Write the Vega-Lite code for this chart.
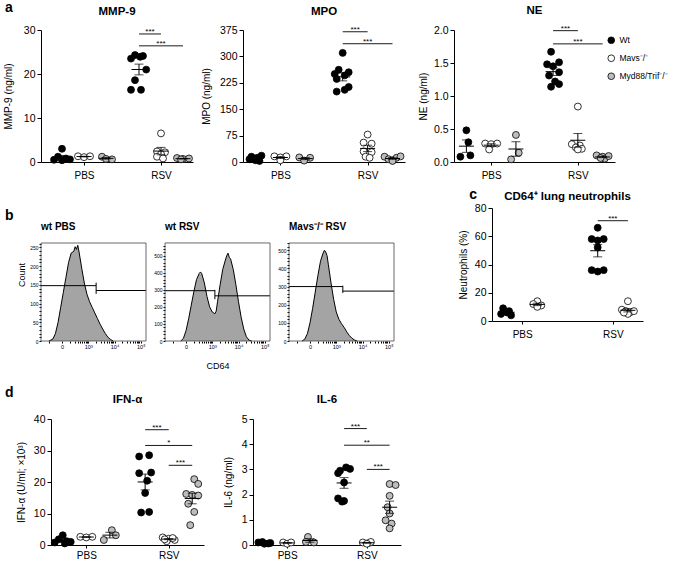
{
"$schema":"https://vega.github.io/schema/vega-lite/v6.json",
"background":"white",
"padding":{"left":3,"top":1,"right":0,"bottom":0},
"config":{
 "font":"Liberation Sans",
 "view":{"stroke":null},
 "axis":{"grid":false,"domainColor":"#000","tickColor":"#000","labelColor":"#000","titleColor":"#000","labelFontSize":10.5,"titleFontSize":10,"titleFontWeight":"normal","tickSize":4,"domainWidth":1,"tickWidth":1,"labelPadding":2,"labelOverlap":false},
 "title":{"fontSize":11.5,"fontWeight":"bold","color":"#000","baseline":"bottom"},
 "legend":{"labelColor":"#000"}
},
"datasets":{
"dots":[
{"p":"MMP-9","grp":"PBS|wt","g":"wt","v":3.0,"j":0},{"p":"MMP-9","grp":"PBS|wt","g":"wt","v":1.2,"j":-1},{"p":"MMP-9","grp":"PBS|wt","g":"wt","v":0.8,"j":1},{"p":"MMP-9","grp":"PBS|wt","g":"wt","v":0.5,"j":-2},{"p":"MMP-9","grp":"PBS|wt","g":"wt","v":0.4,"j":0},{"p":"MMP-9","grp":"PBS|wt","g":"wt","v":0.6,"j":2},
{"p":"MMP-9","grp":"PBS|Mavs","g":"Mavs","v":1.3,"j":-1.5},{"p":"MMP-9","grp":"PBS|Mavs","g":"Mavs","v":1.1,"j":0},{"p":"MMP-9","grp":"PBS|Mavs","g":"Mavs","v":1.3,"j":1.5},
{"p":"MMP-9","grp":"PBS|Myd","g":"Myd","v":1.2,"j":-1},{"p":"MMP-9","grp":"PBS|Myd","g":"Myd","v":0.7,"j":0},{"p":"MMP-9","grp":"PBS|Myd","g":"Myd","v":0.6,"j":1.5},
{"p":"MMP-9","grp":"RSV|wt","g":"wt","v":24.3,"j":-1},{"p":"MMP-9","grp":"RSV|wt","g":"wt","v":24.1,"j":1},{"p":"MMP-9","grp":"RSV|wt","g":"wt","v":23.9,"j":0.3},{"p":"MMP-9","grp":"RSV|wt","g":"wt","v":23.5,"j":-2},{"p":"MMP-9","grp":"RSV|wt","g":"wt","v":21.0,"j":1.8},{"p":"MMP-9","grp":"RSV|wt","g":"wt","v":18.6,"j":-1},{"p":"MMP-9","grp":"RSV|wt","g":"wt","v":16.4,"j":-2},{"p":"MMP-9","grp":"RSV|wt","g":"wt","v":16.4,"j":0.5},
{"p":"MMP-9","grp":"RSV|Mavs","g":"Mavs","v":6.5,"j":0},{"p":"MMP-9","grp":"RSV|Mavs","g":"Mavs","v":2.4,"j":-1},{"p":"MMP-9","grp":"RSV|Mavs","g":"Mavs","v":2.2,"j":1},{"p":"MMP-9","grp":"RSV|Mavs","g":"Mavs","v":1.8,"j":0},{"p":"MMP-9","grp":"RSV|Mavs","g":"Mavs","v":1.2,"j":-1},{"p":"MMP-9","grp":"RSV|Mavs","g":"Mavs","v":0.8,"j":0.5},
{"p":"MMP-9","grp":"RSV|Myd","g":"Myd","v":0.9,"j":-1.5},{"p":"MMP-9","grp":"RSV|Myd","g":"Myd","v":0.7,"j":0},{"p":"MMP-9","grp":"RSV|Myd","g":"Myd","v":0.8,"j":1.5},{"p":"MMP-9","grp":"RSV|Myd","g":"Myd","v":0.6,"j":-0.5},
{"p":"MPO","grp":"PBS|wt","g":"wt","v":18,"j":1.5},{"p":"MPO","grp":"PBS|wt","g":"wt","v":15,"j":-1},{"p":"MPO","grp":"PBS|wt","g":"wt","v":12,"j":0.5},{"p":"MPO","grp":"PBS|wt","g":"wt","v":8,"j":-1.5},{"p":"MPO","grp":"PBS|wt","g":"wt","v":5,"j":0},{"p":"MPO","grp":"PBS|wt","g":"wt","v":3,"j":1},{"p":"MPO","grp":"PBS|wt","g":"wt","v":10,"j":-0.5},
{"p":"MPO","grp":"PBS|Mavs","g":"Mavs","v":16,"j":-1.5},{"p":"MPO","grp":"PBS|Mavs","g":"Mavs","v":13,"j":0},{"p":"MPO","grp":"PBS|Mavs","g":"Mavs","v":16,"j":1.5},{"p":"MPO","grp":"PBS|Mavs","g":"Mavs","v":5,"j":0},
{"p":"MPO","grp":"PBS|Myd","g":"Myd","v":13,"j":-1.5},{"p":"MPO","grp":"PBS|Myd","g":"Myd","v":4,"j":-0.3},{"p":"MPO","grp":"PBS|Myd","g":"Myd","v":12,"j":1.2},
{"p":"MPO","grp":"RSV|wt","g":"wt","v":310,"j":0},{"p":"MPO","grp":"RSV|wt","g":"wt","v":262,"j":-1},{"p":"MPO","grp":"RSV|wt","g":"wt","v":255,"j":1.5},{"p":"MPO","grp":"RSV|wt","g":"wt","v":250,"j":-2},{"p":"MPO","grp":"RSV|wt","g":"wt","v":246,"j":0.5},{"p":"MPO","grp":"RSV|wt","g":"wt","v":236,"j":-1.5},{"p":"MPO","grp":"RSV|wt","g":"wt","v":205,"j":0.5},{"p":"MPO","grp":"RSV|wt","g":"wt","v":200,"j":-1.5},{"p":"MPO","grp":"RSV|wt","g":"wt","v":213,"j":1.5},
{"p":"MPO","grp":"RSV|Mavs","g":"Mavs","v":78,"j":0},{"p":"MPO","grp":"RSV|Mavs","g":"Mavs","v":55,"j":-1},{"p":"MPO","grp":"RSV|Mavs","g":"Mavs","v":52,"j":1},{"p":"MPO","grp":"RSV|Mavs","g":"Mavs","v":30,"j":-1},{"p":"MPO","grp":"RSV|Mavs","g":"Mavs","v":28,"j":1},{"p":"MPO","grp":"RSV|Mavs","g":"Mavs","v":15,"j":-0.5},{"p":"MPO","grp":"RSV|Mavs","g":"Mavs","v":12,"j":0.5},
{"p":"MPO","grp":"RSV|Myd","g":"Myd","v":15,"j":-2},{"p":"MPO","grp":"RSV|Myd","g":"Myd","v":8,"j":-1},{"p":"MPO","grp":"RSV|Myd","g":"Myd","v":5,"j":0},{"p":"MPO","grp":"RSV|Myd","g":"Myd","v":12,"j":1},{"p":"MPO","grp":"RSV|Myd","g":"Myd","v":16,"j":2},{"p":"MPO","grp":"RSV|Myd","g":"Myd","v":3,"j":0},
{"p":"NE","grp":"PBS|wt","g":"wt","v":0.48,"j":0},{"p":"NE","grp":"PBS|wt","g":"wt","v":0.30,"j":0.5},{"p":"NE","grp":"PBS|wt","g":"wt","v":0.08,"j":-1.5},{"p":"NE","grp":"PBS|wt","g":"wt","v":0.10,"j":1},
{"p":"NE","grp":"PBS|Mavs","g":"Mavs","v":0.28,"j":-1.5},{"p":"NE","grp":"PBS|Mavs","g":"Mavs","v":0.27,"j":0},{"p":"NE","grp":"PBS|Mavs","g":"Mavs","v":0.28,"j":1.5},{"p":"NE","grp":"PBS|Mavs","g":"Mavs","v":0.19,"j":-0.5},
{"p":"NE","grp":"PBS|Myd","g":"Myd","v":0.41,"j":0},{"p":"NE","grp":"PBS|Myd","g":"Myd","v":0.14,"j":0.7},{"p":"NE","grp":"PBS|Myd","g":"Myd","v":0.04,"j":-1.2},
{"p":"NE","grp":"RSV|wt","g":"wt","v":1.67,"j":-0.5},{"p":"NE","grp":"RSV|wt","g":"wt","v":1.51,"j":1.5},{"p":"NE","grp":"RSV|wt","g":"wt","v":1.48,"j":-1.5},{"p":"NE","grp":"RSV|wt","g":"wt","v":1.45,"j":0},{"p":"NE","grp":"RSV|wt","g":"wt","v":1.36,"j":1.5},{"p":"NE","grp":"RSV|wt","g":"wt","v":1.31,"j":-1},{"p":"NE","grp":"RSV|wt","g":"wt","v":1.22,"j":0.5},{"p":"NE","grp":"RSV|wt","g":"wt","v":1.18,"j":1.5},{"p":"NE","grp":"RSV|wt","g":"wt","v":1.14,"j":-0.5},
{"p":"NE","grp":"RSV|Mavs","g":"Mavs","v":0.84,"j":0},{"p":"NE","grp":"RSV|Mavs","g":"Mavs","v":0.27,"j":-1.5},{"p":"NE","grp":"RSV|Mavs","g":"Mavs","v":0.25,"j":0.5},{"p":"NE","grp":"RSV|Mavs","g":"Mavs","v":0.22,"j":-0.5},{"p":"NE","grp":"RSV|Mavs","g":"Mavs","v":0.20,"j":1},{"p":"NE","grp":"RSV|Mavs","g":"Mavs","v":0.19,"j":0},
{"p":"NE","grp":"RSV|Myd","g":"Myd","v":0.10,"j":-1.5},{"p":"NE","grp":"RSV|Myd","g":"Myd","v":0.08,"j":0},{"p":"NE","grp":"RSV|Myd","g":"Myd","v":0.05,"j":0.5},{"p":"NE","grp":"RSV|Myd","g":"Myd","v":0.09,"j":1.5},{"p":"NE","grp":"RSV|Myd","g":"Myd","v":0.06,"j":-0.5},
{"p":"CD64","grp":"PBS|wt","g":"wt","v":9,"j":-1},{"p":"CD64","grp":"PBS|wt","g":"wt","v":7,"j":0.5},{"p":"CD64","grp":"PBS|wt","g":"wt","v":5,"j":-1.5},{"p":"CD64","grp":"PBS|wt","g":"wt","v":4,"j":1},{"p":"CD64","grp":"PBS|wt","g":"wt","v":6,"j":0},
{"p":"CD64","grp":"PBS|Mavs","g":"Mavs","v":14,"j":0},{"p":"CD64","grp":"PBS|Mavs","g":"Mavs","v":12,"j":-1},{"p":"CD64","grp":"PBS|Mavs","g":"Mavs","v":11,"j":1},{"p":"CD64","grp":"PBS|Mavs","g":"Mavs","v":10,"j":0},
{"p":"CD64","grp":"RSV|wt","g":"wt","v":66,"j":0},{"p":"CD64","grp":"RSV|wt","g":"wt","v":58,"j":-1.5},{"p":"CD64","grp":"RSV|wt","g":"wt","v":57,"j":0},{"p":"CD64","grp":"RSV|wt","g":"wt","v":58,"j":1.5},{"p":"CD64","grp":"RSV|wt","g":"wt","v":52,"j":0},{"p":"CD64","grp":"RSV|wt","g":"wt","v":36,"j":-1.5},{"p":"CD64","grp":"RSV|wt","g":"wt","v":35,"j":0},{"p":"CD64","grp":"RSV|wt","g":"wt","v":36,"j":1.5},
{"p":"CD64","grp":"RSV|Mavs","g":"Mavs","v":14,"j":0},{"p":"CD64","grp":"RSV|Mavs","g":"Mavs","v":8,"j":-1.5},{"p":"CD64","grp":"RSV|Mavs","g":"Mavs","v":7,"j":-0.5},{"p":"CD64","grp":"RSV|Mavs","g":"Mavs","v":6,"j":0.5},{"p":"CD64","grp":"RSV|Mavs","g":"Mavs","v":7,"j":1.5},{"p":"CD64","grp":"RSV|Mavs","g":"Mavs","v":5,"j":0},{"p":"CD64","grp":"RSV|Mavs","g":"Mavs","v":6,"j":-1},
{"p":"IFN","grp":"PBS|wt","g":"wt","v":3.1,"j":0},{"p":"IFN","grp":"PBS|wt","g":"wt","v":1.8,"j":-1},{"p":"IFN","grp":"PBS|wt","g":"wt","v":1.2,"j":1},{"p":"IFN","grp":"PBS|wt","g":"wt","v":0.8,"j":-2},{"p":"IFN","grp":"PBS|wt","g":"wt","v":0.5,"j":0.5},{"p":"IFN","grp":"PBS|wt","g":"wt","v":1.0,"j":2},
{"p":"IFN","grp":"PBS|Mavs","g":"Mavs","v":2.6,"j":-1.5},{"p":"IFN","grp":"PBS|Mavs","g":"Mavs","v":2.4,"j":0},{"p":"IFN","grp":"PBS|Mavs","g":"Mavs","v":2.6,"j":1.5},
{"p":"IFN","grp":"PBS|Myd","g":"Myd","v":4.7,"j":0.5},{"p":"IFN","grp":"PBS|Myd","g":"Myd","v":3.1,"j":1.5},{"p":"IFN","grp":"PBS|Myd","g":"Myd","v":1.6,"j":-1.5},
{"p":"IFN","grp":"RSV|wt","g":"wt","v":28.5,"j":1},{"p":"IFN","grp":"RSV|wt","g":"wt","v":28.1,"j":-1.5},{"p":"IFN","grp":"RSV|wt","g":"wt","v":23.0,"j":1.5},{"p":"IFN","grp":"RSV|wt","g":"wt","v":22.8,"j":-1.5},{"p":"IFN","grp":"RSV|wt","g":"wt","v":20.4,"j":0.5},{"p":"IFN","grp":"RSV|wt","g":"wt","v":16.5,"j":0},{"p":"IFN","grp":"RSV|wt","g":"wt","v":10.3,"j":-1},{"p":"IFN","grp":"RSV|wt","g":"wt","v":10.5,"j":1},
{"p":"IFN","grp":"RSV|Mavs","g":"Mavs","v":2.4,"j":-1.5},{"p":"IFN","grp":"RSV|Mavs","g":"Mavs","v":2.0,"j":0},{"p":"IFN","grp":"RSV|Mavs","g":"Mavs","v":1.6,"j":1.5},{"p":"IFN","grp":"RSV|Mavs","g":"Mavs","v":1.2,"j":-0.5},{"p":"IFN","grp":"RSV|Mavs","g":"Mavs","v":2.2,"j":1},{"p":"IFN","grp":"RSV|Mavs","g":"Mavs","v":1.8,"j":-1},
{"p":"IFN","grp":"RSV|Myd","g":"Myd","v":20.9,"j":0.5},{"p":"IFN","grp":"RSV|Myd","g":"Myd","v":19.4,"j":1.5},{"p":"IFN","grp":"RSV|Myd","g":"Myd","v":16.2,"j":-1.5},{"p":"IFN","grp":"RSV|Myd","g":"Myd","v":15.9,"j":0},{"p":"IFN","grp":"RSV|Myd","g":"Myd","v":15.7,"j":1.5},{"p":"IFN","grp":"RSV|Myd","g":"Myd","v":13.1,"j":-1},{"p":"IFN","grp":"RSV|Myd","g":"Myd","v":10.5,"j":0.5},{"p":"IFN","grp":"RSV|Myd","g":"Myd","v":6.3,"j":-0.5},
{"p":"IL6","grp":"PBS|wt","g":"wt","v":0.10,"j":-1.5},{"p":"IL6","grp":"PBS|wt","g":"wt","v":0.05,"j":0},{"p":"IL6","grp":"PBS|wt","g":"wt","v":0.08,"j":1.5},{"p":"IL6","grp":"PBS|wt","g":"wt","v":0.12,"j":-0.5},{"p":"IL6","grp":"PBS|wt","g":"wt","v":0.06,"j":1},
{"p":"IL6","grp":"PBS|Mavs","g":"Mavs","v":0.10,"j":-1},{"p":"IL6","grp":"PBS|Mavs","g":"Mavs","v":0.05,"j":0},{"p":"IL6","grp":"PBS|Mavs","g":"Mavs","v":0.10,"j":1},
{"p":"IL6","grp":"PBS|Myd","g":"Myd","v":0.32,"j":-0.5},{"p":"IL6","grp":"PBS|Myd","g":"Myd","v":0.12,"j":-1},{"p":"IL6","grp":"PBS|Myd","g":"Myd","v":0.10,"j":1},
{"p":"IL6","grp":"RSV|wt","g":"wt","v":3.08,"j":0.5},{"p":"IL6","grp":"RSV|wt","g":"wt","v":3.02,"j":1.5},{"p":"IL6","grp":"RSV|wt","g":"wt","v":2.95,"j":-1},{"p":"IL6","grp":"RSV|wt","g":"wt","v":2.85,"j":-1.5},{"p":"IL6","grp":"RSV|wt","g":"wt","v":2.48,"j":0},{"p":"IL6","grp":"RSV|wt","g":"wt","v":1.85,"j":-1.5},{"p":"IL6","grp":"RSV|wt","g":"wt","v":1.75,"j":0},{"p":"IL6","grp":"RSV|wt","g":"wt","v":1.72,"j":-0.5},
{"p":"IL6","grp":"RSV|Mavs","g":"Mavs","v":0.10,"j":-1},{"p":"IL6","grp":"RSV|Mavs","g":"Mavs","v":0.08,"j":0.5},{"p":"IL6","grp":"RSV|Mavs","g":"Mavs","v":0.12,"j":1},{"p":"IL6","grp":"RSV|Mavs","g":"Mavs","v":0.05,"j":0},
{"p":"IL6","grp":"RSV|Myd","g":"Myd","v":2.42,"j":0},{"p":"IL6","grp":"RSV|Myd","g":"Myd","v":2.38,"j":1.5},{"p":"IL6","grp":"RSV|Myd","g":"Myd","v":1.95,"j":0},{"p":"IL6","grp":"RSV|Myd","g":"Myd","v":1.5,"j":-0.5},{"p":"IL6","grp":"RSV|Myd","g":"Myd","v":1.25,"j":0},{"p":"IL6","grp":"RSV|Myd","g":"Myd","v":0.98,"j":-1},{"p":"IL6","grp":"RSV|Myd","g":"Myd","v":0.85,"j":0.5},{"p":"IL6","grp":"RSV|Myd","g":"Myd","v":0.66,"j":0}
],
"sig":[
{"p":"MMP-9","a":"RSV|wt","b":"RSV|Mavs","m":"RSV|wm","y":29.1,"s":"***"},{"p":"MMP-9","a":"RSV|wt","b":"RSV|Myd","m":"RSV|Mavs","y":26.4,"s":"***"},
{"p":"MPO","a":"RSV|wt","b":"RSV|Mavs","m":"RSV|wm","y":370,"s":"***"},{"p":"MPO","a":"RSV|wt","b":"RSV|Myd","m":"RSV|Mavs","y":336,"s":"***"},
{"p":"NE","a":"RSV|wt","b":"RSV|Mavs","m":"RSV|wm","y":1.99,"s":"***"},{"p":"NE","a":"RSV|wt","b":"RSV|Myd","m":"RSV|Mavs","y":1.79,"s":"***"},
{"p":"CD64","a":"RSV|wt","b":"RSV|Mavs","m":"RSV|wm","y":71,"s":"***"},
{"p":"IFN","a":"RSV|wt","b":"RSV|Mavs","m":"RSV|wm","y":36.6,"s":"***"},{"p":"IFN","a":"RSV|wt","b":"RSV|Myd","m":"RSV|Mavs","y":31.6,"s":"*"},{"p":"IFN","a":"RSV|Mavs","b":"RSV|Myd","m":"RSV|my","y":25.3,"s":"***"},
{"p":"IL6","a":"RSV|wt","b":"RSV|Mavs","m":"RSV|wm","y":4.62,"s":"***"},{"p":"IL6","a":"RSV|wt","b":"RSV|Myd","m":"RSV|Mavs","y":3.96,"s":"**"},{"p":"IL6","a":"RSV|Mavs","b":"RSV|Myd","m":"RSV|my","y":3.0,"s":"***"}
],
"hist":[
{"h":"wtPBS","x":-0.5,"n":0},{"h":"wtPBS","x":-0.35,"n":5},{"h":"wtPBS","x":-0.25,"n":20},{"h":"wtPBS","x":-0.15,"n":50},{"h":"wtPBS","x":-0.05,"n":90},{"h":"wtPBS","x":0.05,"n":130},{"h":"wtPBS","x":0.15,"n":170},{"h":"wtPBS","x":0.25,"n":210},{"h":"wtPBS","x":0.35,"n":235},{"h":"wtPBS","x":0.45,"n":240},{"h":"wtPBS","x":0.5,"n":252},{"h":"wtPBS","x":0.55,"n":245},{"h":"wtPBS","x":0.6,"n":256},{"h":"wtPBS","x":0.65,"n":238},{"h":"wtPBS","x":0.75,"n":195},{"h":"wtPBS","x":0.85,"n":155},{"h":"wtPBS","x":0.95,"n":125},{"h":"wtPBS","x":1.05,"n":105},{"h":"wtPBS","x":1.15,"n":90},{"h":"wtPBS","x":1.25,"n":75},{"h":"wtPBS","x":1.35,"n":60},{"h":"wtPBS","x":1.45,"n":45},{"h":"wtPBS","x":1.55,"n":32},{"h":"wtPBS","x":1.65,"n":20},{"h":"wtPBS","x":1.75,"n":10},{"h":"wtPBS","x":1.85,"n":4},{"h":"wtPBS","x":1.95,"n":0},
{"h":"wtRSV","x":-0.2,"n":0},{"h":"wtRSV","x":-0.1,"n":15},{"h":"wtRSV","x":0,"n":60},{"h":"wtRSV","x":0.1,"n":130},{"h":"wtRSV","x":0.2,"n":210},{"h":"wtRSV","x":0.3,"n":290},{"h":"wtRSV","x":0.4,"n":360},{"h":"wtRSV","x":0.5,"n":395},{"h":"wtRSV","x":0.55,"n":405},{"h":"wtRSV","x":0.6,"n":395},{"h":"wtRSV","x":0.7,"n":340},{"h":"wtRSV","x":0.8,"n":260},{"h":"wtRSV","x":0.9,"n":200},{"h":"wtRSV","x":1.0,"n":170},{"h":"wtRSV","x":1.1,"n":160},{"h":"wtRSV","x":1.15,"n":175},{"h":"wtRSV","x":1.2,"n":230},{"h":"wtRSV","x":1.3,"n":330},{"h":"wtRSV","x":1.4,"n":420},{"h":"wtRSV","x":1.5,"n":475},{"h":"wtRSV","x":1.55,"n":500},{"h":"wtRSV","x":1.6,"n":515},{"h":"wtRSV","x":1.65,"n":490},{"h":"wtRSV","x":1.7,"n":480},{"h":"wtRSV","x":1.8,"n":420},{"h":"wtRSV","x":1.9,"n":330},{"h":"wtRSV","x":2.0,"n":230},{"h":"wtRSV","x":2.1,"n":140},{"h":"wtRSV","x":2.2,"n":70},{"h":"wtRSV","x":2.3,"n":25},{"h":"wtRSV","x":2.4,"n":5},{"h":"wtRSV","x":2.5,"n":0},
{"h":"MavsRSV","x":-0.3,"n":0},{"h":"MavsRSV","x":-0.2,"n":10},{"h":"MavsRSV","x":-0.1,"n":40},{"h":"MavsRSV","x":0,"n":100},{"h":"MavsRSV","x":0.1,"n":180},{"h":"MavsRSV","x":0.2,"n":270},{"h":"MavsRSV","x":0.3,"n":360},{"h":"MavsRSV","x":0.4,"n":440},{"h":"MavsRSV","x":0.5,"n":485},{"h":"MavsRSV","x":0.55,"n":500},{"h":"MavsRSV","x":0.6,"n":490},{"h":"MavsRSV","x":0.65,"n":470},{"h":"MavsRSV","x":0.7,"n":420},{"h":"MavsRSV","x":0.8,"n":320},{"h":"MavsRSV","x":0.9,"n":230},{"h":"MavsRSV","x":1.0,"n":160},{"h":"MavsRSV","x":1.1,"n":120},{"h":"MavsRSV","x":1.2,"n":95},{"h":"MavsRSV","x":1.3,"n":75},{"h":"MavsRSV","x":1.4,"n":50},{"h":"MavsRSV","x":1.5,"n":30},{"h":"MavsRSV","x":1.6,"n":15},{"h":"MavsRSV","x":1.7,"n":5},{"h":"MavsRSV","x":1.8,"n":0}
],
"gates":[
{"h":"wtPBS","x":-0.8,"x2":1.3,"y":148,"y2":148},{"h":"wtPBS","x":1.3,"x2":1.3,"y":126,"y2":156},{"h":"wtPBS","x":1.3,"x2":3.2,"y":135,"y2":135},
{"h":"wtRSV","x":-0.8,"x2":1.1,"y":295,"y2":295},{"h":"wtRSV","x":1.1,"x2":1.1,"y":245,"y2":300},{"h":"wtRSV","x":1.1,"x2":3.2,"y":265,"y2":265},
{"h":"MavsRSV","x":-0.8,"x2":1.25,"y":300,"y2":300},{"h":"MavsRSV","x":1.25,"x2":1.25,"y":265,"y2":305},{"h":"MavsRSV","x":1.25,"x2":3.2,"y":275,"y2":275}
],
"frames":[
{"h":"wtPBS","x":-0.8,"x2":3.2,"y":0,"y2":262},{"h":"wtRSV","x":-0.8,"x2":3.2,"y":0,"y2":575},{"h":"MavsRSV","x":-0.8,"x2":3.2,"y":0,"y2":540}
]
},
"spacing":15,
"resolve":{"scale":{"color":"independent"},"legend":{"color":"independent"}},
"vconcat":[
{"spacing":8,"resolve":{"scale":{"color":"independent"},"legend":{"color":"independent"}},
 "vconcat":[
 {"hconcat":[
  {"width":36,"height":132,"title":{"text":"a","anchor":"start","frame":"group","offset":15,"fontSize":14},"data":{"values":[{}]},"mark":{"type":"point","opacity":0,"size":0},"encoding":{}},
  {"width":152,"height":132,"title":{"text":"MMP-9","offset":8},
   "layer":[
   {"data":{"name":"dots"},"transform":[{"filter":"datum.p=='MMP-9'"}],"mark":{"type":"point","filled":true,"stroke":"#000","strokeWidth":0.8,"size":48,"opacity":1},
    "encoding":{"x":{"field":"grp","type":"nominal","title":null,"scale":{"type":"point","domain":["_l","PBS|wt","PBS|wm","PBS|Mavs","PBS|my","PBS|Myd","_g1","_g2","RSV|wt","RSV|wm","RSV|Mavs","RSV|my","RSV|Myd"],"padding":0.909},"axis":{"values":["PBS|Mavs","RSV|Mavs"],"labelExpr":"split(datum.value,'|')[0]","labelAngle":0,"labelFontSize":10,"labelPadding":5,"tickSize":3}},
     "xOffset":{"field":"j","type":"quantitative","scale":{"domain":[-2,2],"range":[-8,8]}},
     "y":{"field":"v","type":"quantitative","title":"MMP-9 (ng/ml)","scale":{"domain":[0,30],"nice":false},"axis":{"values":[0,10,20,30],"titlePadding":10}},
     "color":{"field":"g","type":"nominal","scale":{"domain":["wt","Mavs","Myd"],"range":["#000000","#ffffff","#bdbdbd"]},"legend":null}}},
   {"data":{"name":"dots"},"transform":[{"filter":"datum.p=='MMP-9'"}],"mark":{"type":"errorbar","extent":"stderr","color":"#000","thickness":1,"ticks":{"size":9,"thickness":1,"color":"#000"}},
    "encoding":{"x":{"field":"grp","type":"nominal","title":null},"y":{"field":"v","type":"quantitative","title":"MMP-9 (ng/ml)","axis":{"values":[0,10,20,30],"titlePadding":10}}}},
   {"data":{"name":"dots"},"transform":[{"filter":"datum.p=='MMP-9'"}],"mark":{"type":"tick","size":15,"thickness":1,"color":"#000","orient":"horizontal"},
    "encoding":{"x":{"field":"grp","type":"nominal","title":null},"y":{"field":"v","aggregate":"mean","type":"quantitative","title":"MMP-9 (ng/ml)","axis":{"values":[0,10,20,30],"titlePadding":10}}}},
   {"data":{"name":"sig"},"transform":[{"filter":"datum.p=='MMP-9'"}],"mark":{"type":"rule","color":"#000","strokeWidth":0.9},
    "encoding":{"x":{"field":"a","type":"nominal","title":null},"x2":{"field":"b"},"y":{"field":"y","type":"quantitative","title":"MMP-9 (ng/ml)","axis":{"values":[0,10,20,30],"titlePadding":10}}}},
   {"data":{"name":"sig"},"transform":[{"filter":"datum.p=='MMP-9'"}],"mark":{"type":"text","fontSize":8,"baseline":"alphabetic","color":"#000"},
    "encoding":{"x":{"field":"m","type":"nominal","title":null},"y":{"field":"y","type":"quantitative","title":"MMP-9 (ng/ml)","axis":{"values":[0,10,20,30],"titlePadding":10}},"text":{"field":"s"}}}
   ]},
  {"width":50,"height":132,"data":{"values":[{}]},"mark":{"type":"point","opacity":0,"size":0},"encoding":{}},
  {"width":162,"height":132,"title":{"text":"MPO","offset":8},
   "layer":[
   {"data":{"name":"dots"},"transform":[{"filter":"datum.p=='MPO'"}],"mark":{"type":"point","filled":true,"stroke":"#000","strokeWidth":0.8,"size":48,"opacity":1},
    "encoding":{"x":{"field":"grp","type":"nominal","title":null,"scale":{"type":"point","domain":["PBS|wt","PBS|wm","PBS|Mavs","PBS|my","PBS|Myd","_g1","_g2","RSV|wt","RSV|wm","RSV|Mavs","RSV|my","RSV|Myd"],"padding":1.864},"axis":{"values":["PBS|Mavs","RSV|Mavs"],"labelExpr":"split(datum.value,'|')[0]","labelAngle":0,"labelFontSize":10,"labelPadding":5,"tickSize":3}},
     "xOffset":{"field":"j","type":"quantitative","scale":{"domain":[-2,2],"range":[-8,8]}},
     "y":{"field":"v","type":"quantitative","title":"MPO (ng/ml)","scale":{"domain":[0,375],"nice":false},"axis":{"values":[0,75,150,225,300,375],"titlePadding":8}},
     "color":{"field":"g","type":"nominal","scale":{"domain":["wt","Mavs","Myd"],"range":["#000000","#ffffff","#bdbdbd"]},"legend":null}}},
   {"data":{"name":"dots"},"transform":[{"filter":"datum.p=='MPO'"}],"mark":{"type":"errorbar","extent":"stderr","color":"#000","thickness":1,"ticks":{"size":9,"thickness":1,"color":"#000"}},
    "encoding":{"x":{"field":"grp","type":"nominal","title":null},"y":{"field":"v","type":"quantitative","title":"MPO (ng/ml)","axis":{"values":[0,75,150,225,300,375],"titlePadding":8}}}},
   {"data":{"name":"dots"},"transform":[{"filter":"datum.p=='MPO'"}],"mark":{"type":"tick","size":15,"thickness":1,"color":"#000","orient":"horizontal"},
    "encoding":{"x":{"field":"grp","type":"nominal","title":null},"y":{"field":"v","aggregate":"mean","type":"quantitative","title":"MPO (ng/ml)","axis":{"values":[0,75,150,225,300,375],"titlePadding":8}}}},
   {"data":{"name":"sig"},"transform":[{"filter":"datum.p=='MPO'"}],"mark":{"type":"rule","color":"#000","strokeWidth":0.9},
    "encoding":{"x":{"field":"a","type":"nominal","title":null},"x2":{"field":"b"},"y":{"field":"y","type":"quantitative","title":"MPO (ng/ml)","axis":{"values":[0,75,150,225,300,375],"titlePadding":8}}}},
   {"data":{"name":"sig"},"transform":[{"filter":"datum.p=='MPO'"}],"mark":{"type":"text","fontSize":8,"baseline":"alphabetic","color":"#000"},
    "encoding":{"x":{"field":"m","type":"nominal","title":null},"y":{"field":"y","type":"quantitative","title":"MPO (ng/ml)","axis":{"values":[0,75,150,225,300,375],"titlePadding":8}},"text":{"field":"s"}}}
   ]},
  {"width":49,"height":132,"data":{"values":[{}]},"mark":{"type":"point","opacity":0,"size":0},"encoding":{}},
  {"width":161,"height":132,"title":{"text":"NE","offset":8},
   "layer":[
   {"data":{"name":"dots"},"transform":[{"filter":"datum.p=='NE'"}],"mark":{"type":"point","filled":true,"stroke":"#000","strokeWidth":0.8,"size":48,"opacity":1},
    "encoding":{"x":{"field":"grp","type":"nominal","title":null,"scale":{"type":"point","domain":["PBS|wt","PBS|wm","PBS|Mavs","PBS|my","PBS|Myd","_g1","_g2","RSV|wt","RSV|wm","RSV|Mavs","RSV|my","RSV|Myd"],"padding":1.818},"axis":{"values":["PBS|Mavs","RSV|Mavs"],"labelExpr":"split(datum.value,'|')[0]","labelAngle":0,"labelFontSize":10,"labelPadding":5,"tickSize":3}},
     "xOffset":{"field":"j","type":"quantitative","scale":{"domain":[-2,2],"range":[-8,8]}},
     "y":{"field":"v","type":"quantitative","title":"NE (ng/ml)","scale":{"domain":[0,2],"nice":false},"axis":{"values":[0,0.5,1,1.5,2],"format":".1f","titlePadding":5}},
     "color":{"field":"g","type":"nominal","scale":{"domain":["wt","Mavs","Myd"],"range":["#000000","#ffffff","#bdbdbd"]},
       "legend":{"orient":"none","legendX":153,"legendY":6,"title":null,"padding":0,"labelFontSize":8.5,"symbolSize":45,"symbolType":"circle","symbolStrokeColor":"#000","symbolStrokeWidth":0.8,"rowPadding":7,"labelOffset":4,
         "labelExpr":"datum.value == 'wt' ? 'Wt' : datum.value == 'Mavs' ? 'Mavs⁻/⁻' : 'Myd88/Trif⁻/⁻'",
         "encode":{"labels":{"update":{"fontStyle":{"signal":"datum.value == 'wt' ? 'normal' : 'italic'"}}}}}}}},
   {"data":{"name":"dots"},"transform":[{"filter":"datum.p=='NE'"}],"mark":{"type":"errorbar","extent":"stderr","color":"#000","thickness":1,"ticks":{"size":9,"thickness":1,"color":"#000"}},
    "encoding":{"x":{"field":"grp","type":"nominal","title":null},"y":{"field":"v","type":"quantitative","title":"NE (ng/ml)","axis":{"values":[0,0.5,1,1.5,2],"format":".1f","titlePadding":5}}}},
   {"data":{"name":"dots"},"transform":[{"filter":"datum.p=='NE'"}],"mark":{"type":"tick","size":15,"thickness":1,"color":"#000","orient":"horizontal"},
    "encoding":{"x":{"field":"grp","type":"nominal","title":null},"y":{"field":"v","aggregate":"mean","type":"quantitative","title":"NE (ng/ml)","axis":{"values":[0,0.5,1,1.5,2],"format":".1f","titlePadding":5}}}},
   {"data":{"name":"sig"},"transform":[{"filter":"datum.p=='NE'"}],"mark":{"type":"rule","color":"#000","strokeWidth":0.9},
    "encoding":{"x":{"field":"a","type":"nominal","title":null},"x2":{"field":"b"},"y":{"field":"y","type":"quantitative","title":"NE (ng/ml)","axis":{"values":[0,0.5,1,1.5,2],"format":".1f","titlePadding":5}}}},
   {"data":{"name":"sig"},"transform":[{"filter":"datum.p=='NE'"}],"mark":{"type":"text","fontSize":8,"baseline":"alphabetic","color":"#000"},
    "encoding":{"x":{"field":"m","type":"nominal","title":null},"y":{"field":"y","type":"quantitative","title":"NE (ng/ml)","axis":{"values":[0,0.5,1,1.5,2],"format":".1f","titlePadding":5}},"text":{"field":"s"}}}
   ]}
 ],"spacing":0,"bounds":"flush","resolve":{"scale":{"color":"independent"},"legend":{"color":"independent"}}},
 {"hconcat":[
  {"width":36,"height":1,"title":{"text":"b","anchor":"start","frame":"group","orient":"bottom","baseline":"top","offset":0,"fontSize":14},"data":{"values":[{}]},"mark":{"type":"point","opacity":0,"size":0},"encoding":{}},
  {"width":105,"height":133,"title":{"text":"wt PBS","anchor":"start","frame":"group","offset":-24,"fontSize":10},
   "layer":[
   {"data":{"name":"hist"},"transform":[{"filter":"datum.h=='wtPBS'"}],"mark":{"type":"area","color":"#7d7d7d","line":{"color":"#000","strokeWidth":1}},
    "encoding":{"x":{"field":"x","type":"quantitative","title":null,"scale":{"domain":[-0.8,3.2],"nice":false,"zero":false},"axis":{"values":[-0.5,0,0.3,0.48,0.6,0.7,0.78,0.85,0.9,0.95,1,1.3,1.48,1.6,1.7,1.78,1.85,1.9,1.95,2,2.3,2.48,2.6,2.7,2.78,2.85,2.9,2.95,3],"labelExpr":"datum.value == 0 ? '0' : datum.value == 1 ? '10³' : datum.value == 2 ? '10⁴' : datum.value == 3 ? '10⁵' : ''","labelFontSize":5.5,"tickSize":2,"domain":false,"labelPadding":1,"labelFlush":false,"labelOverlap":false,"labelBound":false}},
     "y":{"field":"n","type":"quantitative","title":"Count","scale":{"domain":[0,355.6],"nice":false},"axis":{"values":[0,10,20,30,40,50,60,70,80,90,100,110,120,130,140,150,160,170,180,190,200,210,220,230,240,250,260],"labelExpr":"datum.value % 50 == 0 ? datum.value : ''","labelFontSize":5,"tickSize":2,"domain":false,"labelPadding":1,"labelOverlap":false,"titleFontSize":9,"titlePadding":3}}}},
   {"data":{"name":"gates"},"transform":[{"filter":"datum.h=='wtPBS'"}],"mark":{"type":"rule","color":"#000","strokeWidth":1},
    "encoding":{"x":{"field":"x","type":"quantitative","title":null,"axis":{"values":[-0.5,0,0.3,0.48,0.6,0.7,0.78,0.85,0.9,0.95,1,1.3,1.48,1.6,1.7,1.78,1.85,1.9,1.95,2,2.3,2.48,2.6,2.7,2.78,2.85,2.9,2.95,3],"labelExpr":"datum.value == 0 ? '0' : datum.value == 1 ? '10³' : datum.value == 2 ? '10⁴' : datum.value == 3 ? '10⁵' : ''","labelFontSize":5.5,"tickSize":2,"domain":false,"labelPadding":1,"labelFlush":false,"labelOverlap":false,"labelBound":false}},"x2":{"field":"x2"},
     "y":{"field":"y","type":"quantitative","title":"Count","axis":{"values":[0,10,20,30,40,50,60,70,80,90,100,110,120,130,140,150,160,170,180,190,200,210,220,230,240,250,260],"labelExpr":"datum.value % 50 == 0 ? datum.value : ''","labelFontSize":5,"tickSize":2,"domain":false,"labelPadding":1,"labelOverlap":false,"titleFontSize":9,"titlePadding":3}},"y2":{"field":"y2"}}},
   {"data":{"name":"frames"},"transform":[{"filter":"datum.h=='wtPBS'"}],"mark":{"type":"rect","filled":false,"color":"#444","strokeWidth":0.8},
    "encoding":{"x":{"field":"x","type":"quantitative","title":null,"axis":{"values":[-0.5,0,0.3,0.48,0.6,0.7,0.78,0.85,0.9,0.95,1,1.3,1.48,1.6,1.7,1.78,1.85,1.9,1.95,2,2.3,2.48,2.6,2.7,2.78,2.85,2.9,2.95,3],"labelExpr":"datum.value == 0 ? '0' : datum.value == 1 ? '10³' : datum.value == 2 ? '10⁴' : datum.value == 3 ? '10⁵' : ''","labelFontSize":5.5,"tickSize":2,"domain":false,"labelPadding":1,"labelFlush":false,"labelOverlap":false,"labelBound":false}},"x2":{"field":"x2"},
     "y":{"field":"y","type":"quantitative","title":"Count","axis":{"values":[0,10,20,30,40,50,60,70,80,90,100,110,120,130,140,150,160,170,180,190,200,210,220,230,240,250,260],"labelExpr":"datum.value % 50 == 0 ? datum.value : ''","labelFontSize":5,"tickSize":2,"domain":false,"labelPadding":1,"labelOverlap":false,"titleFontSize":9,"titlePadding":3}},"y2":{"field":"y2"}}}
   ]},
  {"width":18.5,"height":133,"data":{"values":[{}]},"mark":{"type":"point","opacity":0,"size":0},"encoding":{}},
  {"width":105,"height":133,"title":{"text":"wt RSV","anchor":"start","frame":"group","offset":-24,"fontSize":10},
   "layer":[
   {"data":{"name":"hist"},"transform":[{"filter":"datum.h=='wtRSV'"}],"mark":{"type":"area","color":"#7d7d7d","line":{"color":"#000","strokeWidth":1}},
    "encoding":{"x":{"field":"x","type":"quantitative","title":"CD64","scale":{"domain":[-0.8,3.2],"nice":false,"zero":false},"axis":{"values":[-0.5,0,0.3,0.48,0.6,0.7,0.78,0.85,0.9,0.95,1,1.3,1.48,1.6,1.7,1.78,1.85,1.9,1.95,2,2.3,2.48,2.6,2.7,2.78,2.85,2.9,2.95,3],"labelExpr":"datum.value == 0 ? '0' : datum.value == 1 ? '10³' : datum.value == 2 ? '10⁴' : datum.value == 3 ? '10⁵' : ''","labelFontSize":5.5,"tickSize":2,"domain":false,"labelPadding":1,"labelFlush":false,"labelOverlap":false,"labelBound":false,"titleFontSize":9,"titlePadding":12}},
     "y":{"field":"n","type":"quantitative","title":null,"scale":{"domain":[0,780],"nice":false},"axis":{"values":[0,20,40,60,80,100,120,140,160,180,200,220,240,260,280,300,320,340,360,380,400,420,440,460,480,500,520,540,560],"labelExpr":"datum.value % 100 == 0 ? datum.value : ''","labelFontSize":5,"tickSize":2,"domain":false,"labelPadding":1,"labelOverlap":false}}}},
   {"data":{"name":"gates"},"transform":[{"filter":"datum.h=='wtRSV'"}],"mark":{"type":"rule","color":"#000","strokeWidth":1},
    "encoding":{"x":{"field":"x","type":"quantitative","title":"CD64","axis":{"values":[-0.5,0,0.3,0.48,0.6,0.7,0.78,0.85,0.9,0.95,1,1.3,1.48,1.6,1.7,1.78,1.85,1.9,1.95,2,2.3,2.48,2.6,2.7,2.78,2.85,2.9,2.95,3],"labelExpr":"datum.value == 0 ? '0' : datum.value == 1 ? '10³' : datum.value == 2 ? '10⁴' : datum.value == 3 ? '10⁵' : ''","labelFontSize":5.5,"tickSize":2,"domain":false,"labelPadding":1,"labelFlush":false,"labelOverlap":false,"labelBound":false,"titleFontSize":9,"titlePadding":12}},"x2":{"field":"x2"},
     "y":{"field":"y","type":"quantitative","title":null,"axis":{"values":[0,20,40,60,80,100,120,140,160,180,200,220,240,260,280,300,320,340,360,380,400,420,440,460,480,500,520,540,560],"labelExpr":"datum.value % 100 == 0 ? datum.value : ''","labelFontSize":5,"tickSize":2,"domain":false,"labelPadding":1,"labelOverlap":false}},"y2":{"field":"y2"}}},
   {"data":{"name":"frames"},"transform":[{"filter":"datum.h=='wtRSV'"}],"mark":{"type":"rect","filled":false,"color":"#444","strokeWidth":0.8},
    "encoding":{"x":{"field":"x","type":"quantitative","title":"CD64","axis":{"values":[-0.5,0,0.3,0.48,0.6,0.7,0.78,0.85,0.9,0.95,1,1.3,1.48,1.6,1.7,1.78,1.85,1.9,1.95,2,2.3,2.48,2.6,2.7,2.78,2.85,2.9,2.95,3],"labelExpr":"datum.value == 0 ? '0' : datum.value == 1 ? '10³' : datum.value == 2 ? '10⁴' : datum.value == 3 ? '10⁵' : ''","labelFontSize":5.5,"tickSize":2,"domain":false,"labelPadding":1,"labelFlush":false,"labelOverlap":false,"labelBound":false,"titleFontSize":9,"titlePadding":12}},"x2":{"field":"x2"},
     "y":{"field":"y","type":"quantitative","title":null,"axis":{"values":[0,20,40,60,80,100,120,140,160,180,200,220,240,260,280,300,320,340,360,380,400,420,440,460,480,500,520,540,560],"labelExpr":"datum.value % 100 == 0 ? datum.value : ''","labelFontSize":5,"tickSize":2,"domain":false,"labelPadding":1,"labelOverlap":false}},"y2":{"field":"y2"}}}
   ]},
  {"width":18.5,"height":133,"data":{"values":[{}]},"mark":{"type":"point","opacity":0,"size":0},"encoding":{}},
  {"width":105,"height":133,"title":{"text":"Mavs⁻/⁻ RSV","anchor":"start","frame":"group","offset":-24,"fontSize":10},
   "layer":[
   {"data":{"name":"hist"},"transform":[{"filter":"datum.h=='MavsRSV'"}],"mark":{"type":"area","color":"#7d7d7d","line":{"color":"#000","strokeWidth":1}},
    "encoding":{"x":{"field":"x","type":"quantitative","title":null,"scale":{"domain":[-0.8,3.2],"nice":false,"zero":false},"axis":{"values":[-0.5,0,0.3,0.48,0.6,0.7,0.78,0.85,0.9,0.95,1,1.3,1.48,1.6,1.7,1.78,1.85,1.9,1.95,2,2.3,2.48,2.6,2.7,2.78,2.85,2.9,2.95,3],"labelExpr":"datum.value == 0 ? '0' : datum.value == 1 ? '10³' : datum.value == 2 ? '10⁴' : datum.value == 3 ? '10⁵' : ''","labelFontSize":5.5,"tickSize":2,"domain":false,"labelPadding":1,"labelFlush":false,"labelOverlap":false,"labelBound":false}},
     "y":{"field":"n","type":"quantitative","title":null,"scale":{"domain":[0,733],"nice":false},"axis":{"values":[0,20,40,60,80,100,120,140,160,180,200,220,240,260,280,300,320,340,360,380,400,420,440,460,480,500,520,540],"labelExpr":"datum.value % 100 == 0 ? datum.value : ''","labelFontSize":5,"tickSize":2,"domain":false,"labelPadding":1,"labelOverlap":false}}}},
   {"data":{"name":"gates"},"transform":[{"filter":"datum.h=='MavsRSV'"}],"mark":{"type":"rule","color":"#000","strokeWidth":1},
    "encoding":{"x":{"field":"x","type":"quantitative","title":null,"axis":{"values":[-0.5,0,0.3,0.48,0.6,0.7,0.78,0.85,0.9,0.95,1,1.3,1.48,1.6,1.7,1.78,1.85,1.9,1.95,2,2.3,2.48,2.6,2.7,2.78,2.85,2.9,2.95,3],"labelExpr":"datum.value == 0 ? '0' : datum.value == 1 ? '10³' : datum.value == 2 ? '10⁴' : datum.value == 3 ? '10⁵' : ''","labelFontSize":5.5,"tickSize":2,"domain":false,"labelPadding":1,"labelFlush":false,"labelOverlap":false,"labelBound":false}},"x2":{"field":"x2"},
     "y":{"field":"y","type":"quantitative","title":null,"axis":{"values":[0,20,40,60,80,100,120,140,160,180,200,220,240,260,280,300,320,340,360,380,400,420,440,460,480,500,520,540],"labelExpr":"datum.value % 100 == 0 ? datum.value : ''","labelFontSize":5,"tickSize":2,"domain":false,"labelPadding":1,"labelOverlap":false}},"y2":{"field":"y2"}}},
   {"data":{"name":"frames"},"transform":[{"filter":"datum.h=='MavsRSV'"}],"mark":{"type":"rect","filled":false,"color":"#444","strokeWidth":0.8},
    "encoding":{"x":{"field":"x","type":"quantitative","title":null,"axis":{"values":[-0.5,0,0.3,0.48,0.6,0.7,0.78,0.85,0.9,0.95,1,1.3,1.48,1.6,1.7,1.78,1.85,1.9,1.95,2,2.3,2.48,2.6,2.7,2.78,2.85,2.9,2.95,3],"labelExpr":"datum.value == 0 ? '0' : datum.value == 1 ? '10³' : datum.value == 2 ? '10⁴' : datum.value == 3 ? '10⁵' : ''","labelFontSize":5.5,"tickSize":2,"domain":false,"labelPadding":1,"labelFlush":false,"labelOverlap":false,"labelBound":false}},"x2":{"field":"x2"},
     "y":{"field":"y","type":"quantitative","title":null,"axis":{"values":[0,20,40,60,80,100,120,140,160,180,200,220,240,260,280,300,320,340,360,380,400,420,440,460,480,500,520,540],"labelExpr":"datum.value % 100 == 0 ? datum.value : ''","labelFontSize":5,"tickSize":2,"domain":false,"labelPadding":1,"labelOverlap":false}},"y2":{"field":"y2"}}}
   ]},
  {"width":98,"height":113,"title":{"text":"c","anchor":"end","frame":"group","dx":-15,"offset":6,"fontSize":14},"data":{"values":[{}]},"mark":{"type":"point","opacity":0,"size":0},"encoding":{}},
  {"width":151,"height":113,"title":{"text":"CD64⁺ lung neutrophils","offset":1},
   "layer":[
   {"data":{"name":"dots"},"transform":[{"filter":"datum.p=='CD64'"}],"mark":{"type":"point","filled":true,"stroke":"#000","strokeWidth":0.8,"size":48,"opacity":1},
    "encoding":{"x":{"field":"grp","type":"nominal","title":null,"scale":{"type":"point","domain":["PBS|wt","PBS|wm","PBS|Mavs","_g1","_g2","_g3","RSV|wt","RSV|wm","RSV|Mavs"],"padding":1.808},"axis":{"values":["PBS|wm","RSV|wm"],"labelExpr":"split(datum.value,'|')[0]","labelAngle":0,"labelFontSize":10,"labelPadding":5,"tickSize":3}},
     "xOffset":{"field":"j","type":"quantitative","scale":{"domain":[-2,2],"range":[-8,8]}},
     "y":{"field":"v","type":"quantitative","title":"Neutrophils (%)","scale":{"domain":[0,80],"nice":false},"axis":{"values":[0,20,40,60,80],"titlePadding":6}},
     "color":{"field":"g","type":"nominal","scale":{"domain":["wt","Mavs","Myd"],"range":["#000000","#ffffff","#bdbdbd"]},"legend":null}}},
   {"data":{"name":"dots"},"transform":[{"filter":"datum.p=='CD64'"}],"mark":{"type":"errorbar","extent":"stderr","color":"#000","thickness":1,"ticks":{"size":9,"thickness":1,"color":"#000"}},
    "encoding":{"x":{"field":"grp","type":"nominal","title":null},"y":{"field":"v","type":"quantitative","title":"Neutrophils (%)","axis":{"values":[0,20,40,60,80],"titlePadding":6}}}},
   {"data":{"name":"dots"},"transform":[{"filter":"datum.p=='CD64'"}],"mark":{"type":"tick","size":15,"thickness":1,"color":"#000","orient":"horizontal"},
    "encoding":{"x":{"field":"grp","type":"nominal","title":null},"y":{"field":"v","aggregate":"mean","type":"quantitative","title":"Neutrophils (%)","axis":{"values":[0,20,40,60,80],"titlePadding":6}}}},
   {"data":{"name":"sig"},"transform":[{"filter":"datum.p=='CD64'"}],"mark":{"type":"rule","color":"#000","strokeWidth":0.9},
    "encoding":{"x":{"field":"a","type":"nominal","title":null},"x2":{"field":"b"},"y":{"field":"y","type":"quantitative","title":"Neutrophils (%)","axis":{"values":[0,20,40,60,80],"titlePadding":6}}}},
   {"data":{"name":"sig"},"transform":[{"filter":"datum.p=='CD64'"}],"mark":{"type":"text","fontSize":8,"baseline":"alphabetic","color":"#000"},
    "encoding":{"x":{"field":"m","type":"nominal","title":null},"y":{"field":"y","type":"quantitative","title":"Neutrophils (%)","axis":{"values":[0,20,40,60,80],"titlePadding":6}},"text":{"field":"s"}}}
   ]}
 ],"spacing":0,"bounds":"flush","resolve":{"scale":{"color":"independent"},"legend":{"color":"independent"}}}
 ]},
{"hconcat":[
 {"width":46,"height":126,"title":{"text":"d","anchor":"start","frame":"group","offset":19,"fontSize":14},"data":{"values":[{}]},"mark":{"type":"point","opacity":0,"size":0},"encoding":{}},
 {"width":153,"height":126,"title":{"text":"IFN-α","offset":9},
  "layer":[
  {"data":{"name":"dots"},"transform":[{"filter":"datum.p=='IFN'"}],"mark":{"type":"point","filled":true,"stroke":"#000","strokeWidth":0.8,"size":48,"opacity":1},
   "encoding":{"x":{"field":"grp","type":"nominal","title":null,"scale":{"type":"point","domain":["PBS|wt","PBS|wm","PBS|Mavs","PBS|my","PBS|Myd","_g1","_g2","RSV|wt","RSV|wm","RSV|Mavs","RSV|my","RSV|Myd"],"padding":1.455},"axis":{"values":["PBS|Mavs","RSV|Mavs"],"labelExpr":"split(datum.value,'|')[0]","labelAngle":0,"labelFontSize":10,"labelPadding":2,"tickSize":3}},
    "xOffset":{"field":"j","type":"quantitative","scale":{"domain":[-2,2],"range":[-8,8]}},
    "y":{"field":"v","type":"quantitative","title":"IFN-α (U/ml; ×10³)","scale":{"domain":[0,40],"nice":false},"axis":{"values":[0,10,20,30,40],"titlePadding":7}},
    "color":{"field":"g","type":"nominal","scale":{"domain":["wt","Mavs","Myd"],"range":["#000000","#ffffff","#bdbdbd"]},"legend":null}}},
  {"data":{"name":"dots"},"transform":[{"filter":"datum.p=='IFN'"}],"mark":{"type":"errorbar","extent":"stderr","color":"#000","thickness":1,"ticks":{"size":9,"thickness":1,"color":"#000"}},
   "encoding":{"x":{"field":"grp","type":"nominal","title":null},"y":{"field":"v","type":"quantitative","title":"IFN-α (U/ml; ×10³)","axis":{"values":[0,10,20,30,40],"titlePadding":7}}}},
  {"data":{"name":"dots"},"transform":[{"filter":"datum.p=='IFN'"}],"mark":{"type":"tick","size":15,"thickness":1,"color":"#000","orient":"horizontal"},
   "encoding":{"x":{"field":"grp","type":"nominal","title":null},"y":{"field":"v","aggregate":"mean","type":"quantitative","title":"IFN-α (U/ml; ×10³)","axis":{"values":[0,10,20,30,40],"titlePadding":7}}}},
  {"data":{"name":"sig"},"transform":[{"filter":"datum.p=='IFN'"}],"mark":{"type":"rule","color":"#000","strokeWidth":0.9},
   "encoding":{"x":{"field":"a","type":"nominal","title":null},"x2":{"field":"b"},"y":{"field":"y","type":"quantitative","title":"IFN-α (U/ml; ×10³)","axis":{"values":[0,10,20,30,40],"titlePadding":7}}}},
  {"data":{"name":"sig"},"transform":[{"filter":"datum.p=='IFN'"}],"mark":{"type":"text","fontSize":8,"baseline":"alphabetic","color":"#000"},
   "encoding":{"x":{"field":"m","type":"nominal","title":null},"y":{"field":"y","type":"quantitative","title":"IFN-α (U/ml; ×10³)","axis":{"values":[0,10,20,30,40],"titlePadding":7}},"text":{"field":"s"}}}
  ]},
 {"width":49,"height":126,"data":{"values":[{}]},"mark":{"type":"point","opacity":0,"size":0},"encoding":{}},
 {"width":148,"height":126,"title":{"text":"IL-6","offset":9},
  "layer":[
  {"data":{"name":"dots"},"transform":[{"filter":"datum.p=='IL6'"}],"mark":{"type":"point","filled":true,"stroke":"#000","strokeWidth":0.8,"size":48,"opacity":1},
   "encoding":{"x":{"field":"grp","type":"nominal","title":null,"scale":{"type":"point","domain":["PBS|wt","PBS|wm","PBS|Mavs","PBS|my","PBS|Myd","_g1","_g2","RSV|wt","RSV|wm","RSV|Mavs","RSV|my","RSV|Myd"],"padding":1.227},"axis":{"values":["PBS|Mavs","RSV|Mavs"],"labelExpr":"split(datum.value,'|')[0]","labelAngle":0,"labelFontSize":10,"labelPadding":2,"tickSize":3}},
    "xOffset":{"field":"j","type":"quantitative","scale":{"domain":[-2,2],"range":[-8,8]}},
    "y":{"field":"v","type":"quantitative","title":"IL-6 (ng/ml)","scale":{"domain":[0,5],"nice":false},"axis":{"values":[0,1,2,3,4,5],"titlePadding":8}},
    "color":{"field":"g","type":"nominal","scale":{"domain":["wt","Mavs","Myd"],"range":["#000000","#ffffff","#bdbdbd"]},"legend":null}}},
  {"data":{"name":"dots"},"transform":[{"filter":"datum.p=='IL6'"}],"mark":{"type":"errorbar","extent":"stderr","color":"#000","thickness":1,"ticks":{"size":9,"thickness":1,"color":"#000"}},
   "encoding":{"x":{"field":"grp","type":"nominal","title":null},"y":{"field":"v","type":"quantitative","title":"IL-6 (ng/ml)","axis":{"values":[0,1,2,3,4,5],"titlePadding":8}}}},
  {"data":{"name":"dots"},"transform":[{"filter":"datum.p=='IL6'"}],"mark":{"type":"tick","size":15,"thickness":1,"color":"#000","orient":"horizontal"},
   "encoding":{"x":{"field":"grp","type":"nominal","title":null},"y":{"field":"v","aggregate":"mean","type":"quantitative","title":"IL-6 (ng/ml)","axis":{"values":[0,1,2,3,4,5],"titlePadding":8}}}},
  {"data":{"name":"sig"},"transform":[{"filter":"datum.p=='IL6'"}],"mark":{"type":"rule","color":"#000","strokeWidth":0.9},
   "encoding":{"x":{"field":"a","type":"nominal","title":null},"x2":{"field":"b"},"y":{"field":"y","type":"quantitative","title":"IL-6 (ng/ml)","axis":{"values":[0,1,2,3,4,5],"titlePadding":8}}}},
  {"data":{"name":"sig"},"transform":[{"filter":"datum.p=='IL6'"}],"mark":{"type":"text","fontSize":8,"baseline":"alphabetic","color":"#000"},
   "encoding":{"x":{"field":"m","type":"nominal","title":null},"y":{"field":"y","type":"quantitative","title":"IL-6 (ng/ml)","axis":{"values":[0,1,2,3,4,5],"titlePadding":8}},"text":{"field":"s"}}}
  ]}
],"spacing":0,"bounds":"flush","resolve":{"scale":{"color":"independent"},"legend":{"color":"independent"}}}
]
}
